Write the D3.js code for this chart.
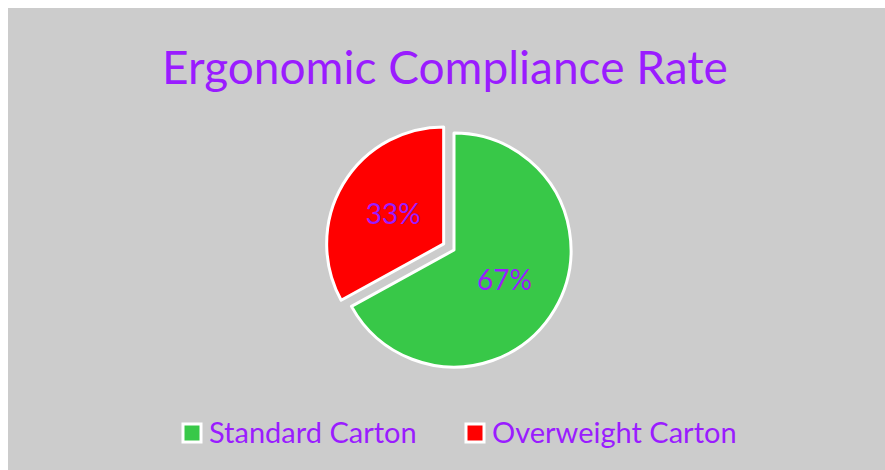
<!DOCTYPE html>
<html lang="en">
<head>
<meta charset="UTF-8">
<style>
  body { margin: 0; background: #fff; }
  svg text { font-family: Lato, "Noto Sans", sans-serif; fill: #9a1cff; }
</style>
</head>
<body>
<svg id="chart" width="885" height="470"></svg>
<script src="https://cdn.jsdelivr.net/npm/d3@7"></script>
<script>
// data
var categories = ["Standard Carton", "Overweight Carton"];
var values = [67, 33];
var labels = ["67%", "33%"];
var colors = ["#38c848", "#ff0000"];
var titleText = "Ergonomic Compliance Rate";

var svg = d3.select("#chart"),
    width = +svg.attr("width"),
    height = +svg.attr("height");

// background panel
svg.append("rect")
  .attr("x", 8).attr("y", 8)
  .attr("width", width - 8).attr("height", height - 8)
  .attr("fill", "#cccccc");

// title
svg.append("text")
  .attr("x", 445).attr("y", 84)
  .attr("text-anchor", "middle")
  .style("font-size", "46px")
  .text(titleText);

// pie
var cx = 454, cy = 250, r = 117, explode = 12;
var pie = d3.pie().sort(null).value(function(d) { return d; });
var arc = d3.arc().innerRadius(0).outerRadius(r);
var arcs = pie(values);

var g = svg.append("g").attr("transform", "translate(" + cx + "," + cy + ")");

var slices = g.selectAll("g.slice")
  .data(arcs)
  .enter().append("g")
  .attr("class", "slice")
  .attr("transform", function(d, i) {
    if (i == 0) return null;
    var a = (d.startAngle + d.endAngle) / 2;
    return "translate(" + (Math.sin(a) * explode) + "," + (-Math.cos(a) * explode) + ")";
  });

slices.append("path")
  .attr("d", arc)
  .attr("fill", function(d, i) { return colors[i]; })
  .attr("stroke", "#fff")
  .attr("stroke-width", 3)
  .attr("stroke-linejoin", "round");

var labelArc = d3.arc().innerRadius(r * 0.5).outerRadius(r * 0.5);
slices.append("text")
  .attr("transform", function(d) { return "translate(" + labelArc.centroid(d) + ")"; })
  .attr("text-anchor", "middle")
  .attr("dy", "0.35em")
  .style("font-size", "28px")
  .text(function(d, i) { return labels[i]; });

// legend
var legendX = [182, 465];
var legend = svg.selectAll("g.legend")
  .data(categories)
  .enter().append("g")
  .attr("class", "legend")
  .attr("transform", function(d, i) { return "translate(" + legendX[i] + ",433)"; });

legend.append("rect")
  .attr("x", 1).attr("y", -9)
  .attr("width", 18).attr("height", 18)
  .attr("fill", function(d, i) { return colors[i]; })
  .attr("stroke", "#fff")
  .attr("stroke-width", 3);

legend.append("text")
  .attr("x", 27).attr("dy", "0.35em")
  .style("font-size", "29px")
  .text(function(d) { return d; });
</script>
</body>
</html>
